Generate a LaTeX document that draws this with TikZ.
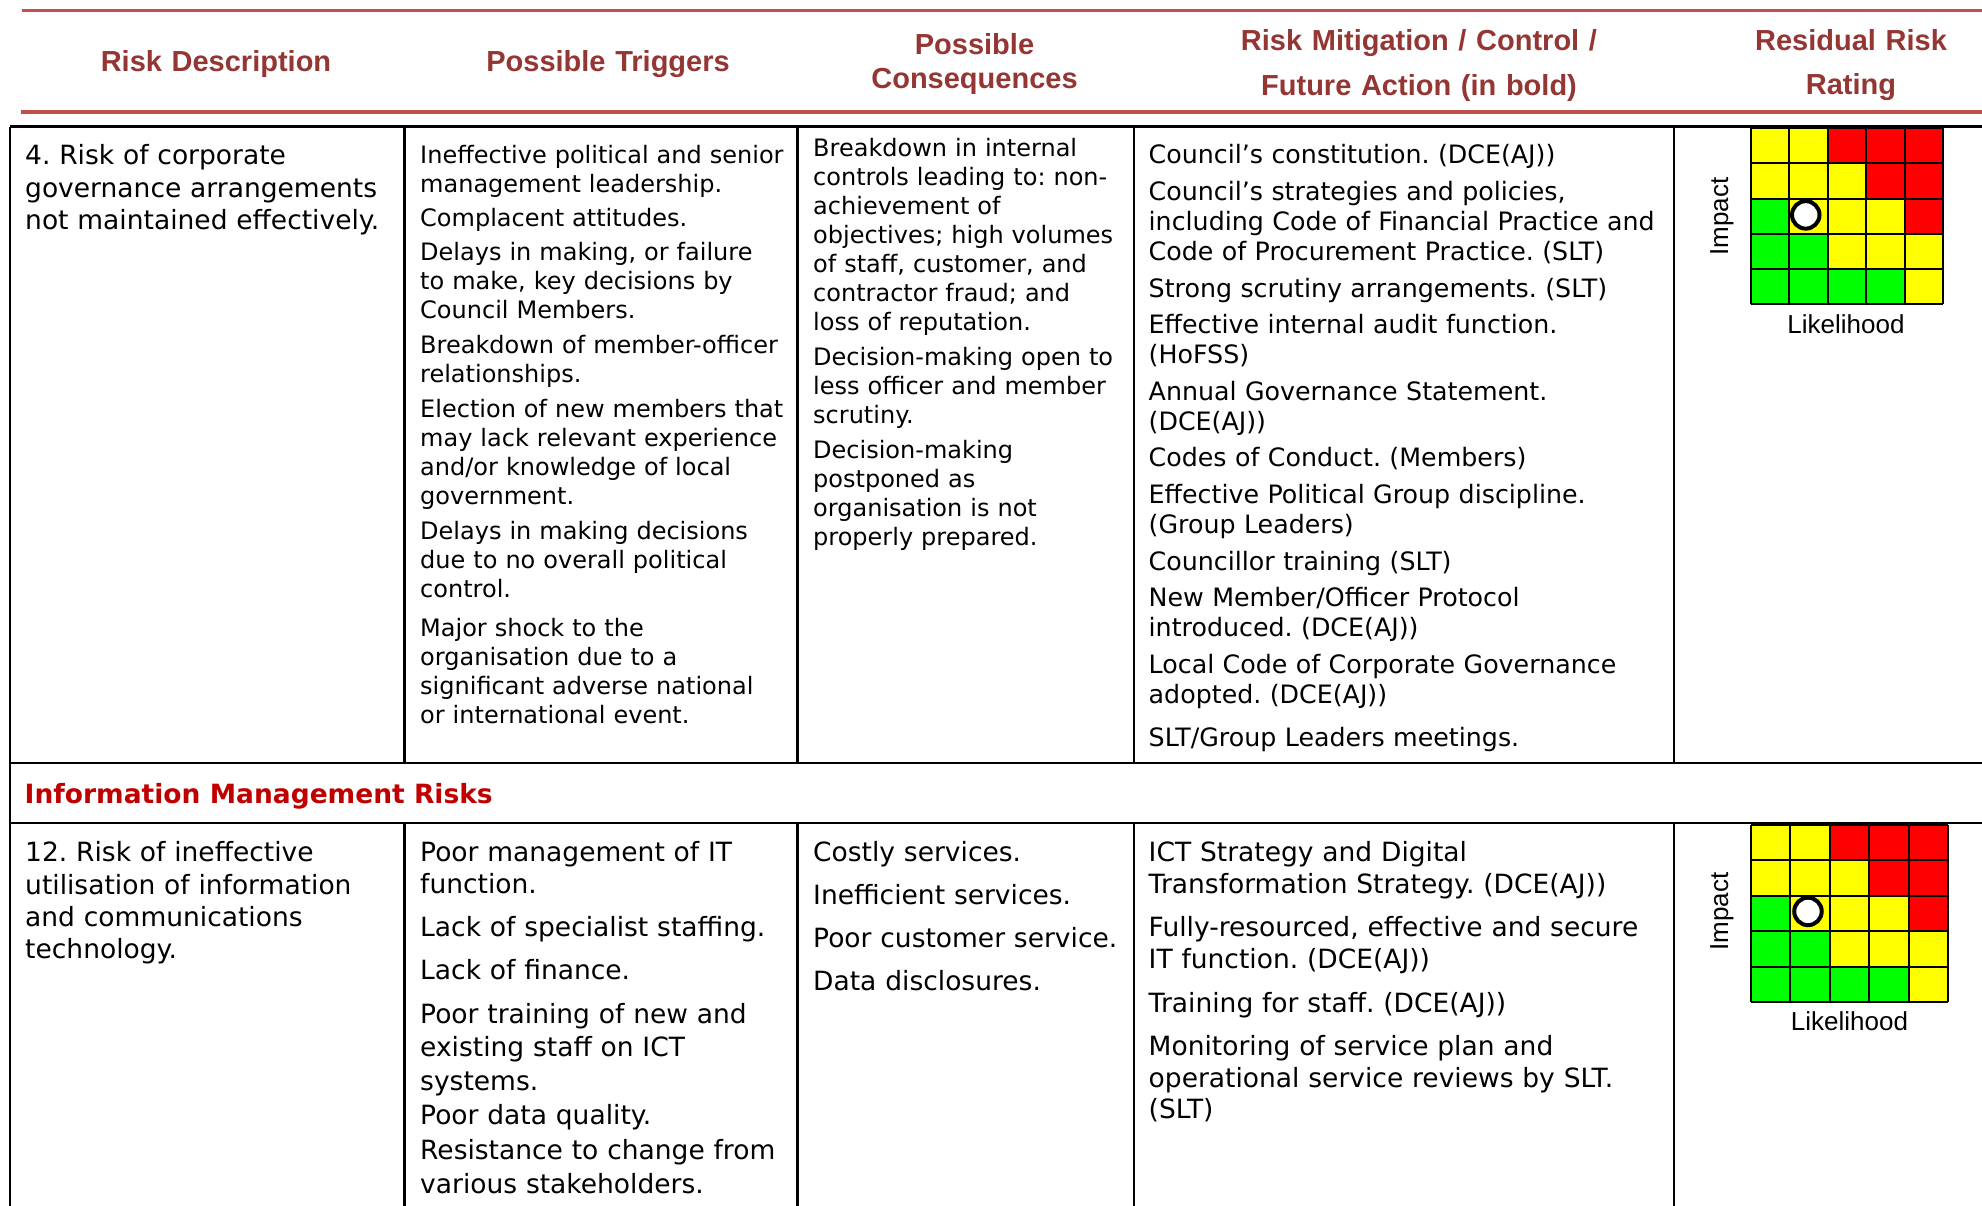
\documentclass[tikz,border=0pt]{standalone}
\usepackage{fontspec}
\setmainfont{DejaVu Sans}
\newfontfamily\headfont{Liberation Sans}
\definecolor{headred}{HTML}{943634}
\definecolor{rulered}{HTML}{C0504D}
\definecolor{sectred}{HTML}{C00000}
\definecolor{lowgreen}{HTML}{00FF00}
\definecolor{midyellow}{HTML}{FFFF00}
\definecolor{highred}{HTML}{FF0000}

\begin{document}
\frenchspacing
\begin{tikzpicture}[
x=1pt, y=-1pt,
headnode/.style={font=\headfont\bfseries\fontsize{29}{44.5}\selectfont, text=headred, text width=400pt, align=center, inner sep=0, anchor=base},
descnode/.style={font=\fontsize{26.5}{32.3}\selectfont, text width=375pt, align=left, inner sep=0, anchor=base west},
smallnode/.style={font=\fontsize{24}{29}\selectfont, text width=375pt, align=left, inner sep=0, anchor=base west},
mitignode/.style={font=\fontsize{25.3}{30}\selectfont, text width=520pt, align=left, inner sep=0, anchor=base west},
bignode/.style={font=\fontsize{26.5}{32}\selectfont, text width=520pt, align=left, inner sep=0, anchor=base west},
sectnode/.style={font=\bfseries\fontsize{26.5}{32}\selectfont, text=sectred, inner sep=0, anchor=base west},
axisnode/.style={font=\headfont\fontsize{26}{26}\selectfont, inner sep=0, anchor=base},
ratingdot/.style={circle, draw=black, line width=4pt, fill=white, minimum size=27.5pt, inner sep=0},
headrule/.style={rulered, line width=3.3pt},
tablerule/.style={black, line width=2.4pt},
gridrule/.style={black, line width=2pt, step=1}
]
\useasboundingbox (0,0) rectangle (1982,1206);

\draw[headrule] (22,10.7) -- (1982,10.7);
\draw[headrule] (21,112) -- (1982,112);

\node[headnode] (head_desc) at (216,72) {Risk Description};
\node[headnode] (head_trig) at (608,72) {Possible Triggers};
\node[headnode] (head_cons) at (974.5,55) {Possible\\[-11pt]Consequences};
\node[headnode] (head_mitig) at (1419,51) {Risk Mitigation / Control /\\Future Action (in bold)};
\node[headnode] (head_resid) at (1851,51) {Residual Risk\\[-1pt]Rating};

\draw[tablerule] (10,126.7) -- (1982,126.7);
\draw[tablerule] (10,762.7) -- (1982,762.7);
\draw[tablerule] (10,822.7) -- (1982,822.7);
\draw[tablerule] (10,126.7) -- (10,1206);
\draw[tablerule] (404.5,126.7) -- (404.5,762.7) (404.5,822.7) -- (404.5,1206);
\draw[tablerule] (797.6,126.7) -- (797.6,762.7) (797.6,822.7) -- (797.6,1206);
\draw[tablerule] (1134,126.7) -- (1134,762.7) (1134,822.7) -- (1134,1206);
\draw[tablerule] (1674,126.7) -- (1674,762.7) (1674,822.7) -- (1674,1206);

\node[descnode] (desc_four) at (25,165) {4. Risk of corporate\\governance arrangements\\not maintained effectively.};

\node[smallnode] (trig_four) at (420,163.3) {Ineffective political and senior\\management leadership.\\[5pt]Complacent attitudes.\\[5.5pt]Delays in making, or failure\\to make, key decisions by\\Council Members.\\[6pt]Breakdown of member-officer\\relationships.\\[5.5pt]Election of new members that\\may lack relevant experience\\and/or knowledge of local\\government.\\[6pt]Delays in making decisions\\due to no overall political\\control.\\[10pt]Major shock to the\\organisation due to a\\significant adverse national\\or international event.};

\node[smallnode] (cons_four) at (813,156.7) {Breakdown in internal\\controls leading to: non-\\achievement of\\objectives; high volumes\\of staff, customer, and\\contractor fraud; and\\loss of reputation.\\[6pt]Decision-making open to\\less officer and member\\scrutiny.\\[6pt]Decision-making\\postponed as\\organisation is not\\properly prepared.};

\node[mitignode] (mitig_four) at (1148.5,164) {Council’s constitution. (DCE(AJ))\\[6.6pt]Council’s strategies and policies,\\including Code of Financial Practice and\\Code of Procurement Practice. (SLT)\\[6.6pt]Strong scrutiny arrangements. (SLT)\\[6.6pt]Effective internal audit function.\\(HoFSS)\\[6.6pt]Annual Governance Statement.\\(DCE(AJ))\\[6.6pt]Codes of Conduct. (Members)\\[6.6pt]Effective Political Group discipline.\\(Group Leaders)\\[6.6pt]Councillor training (SLT)\\[6.6pt]New Member/Officer Protocol\\introduced. (DCE(AJ))\\[6.6pt]Local Code of Corporate Governance\\adopted. (DCE(AJ))\\[13pt]SLT/Group Leaders meetings.};

\begin{scope}[shift={(1750.7,304.3)}, x=38.5pt, y=35.2pt]
\fill[midyellow] (0,0) rectangle (5,5);
\fill[highred] (2,5) -- (5,5) -- (5,2) -- (4,2) -- (4,3) -- (3,3) -- (3,4) -- (2,4) -- cycle;
\fill[lowgreen] (0,3) -- (1,3) -- (1,2) -- (2,2) -- (2,1) -- (4,1) -- (4,0) -- (0,0) -- cycle;
\draw[gridrule] (0,0) grid (5,5);
\node[ratingdot] (dot_four) at (1.43,2.54) {};
\end{scope}
\node[axisnode, rotate=90] (impact_four) at (1728,216.7) {Impact};
\node[axisnode] (likely_four) at (1846,333.3) {Likelihood};

\node[sectnode] (sect_info) at (24.5,803.3) {Information Management Risks};

\node[descnode] (desc_twelve) at (25,861.7) {12. Risk of ineffective\\utilisation of information\\and communications\\technology.};

\node[bignode, font=\fontsize{26.5}{33}\selectfont] (trig_twelve) at (420,861.7) {Poor management of IT\\[-1.4pt]function.\\[10.3pt]Lack of specialist staffing.\\[10.3pt]Lack of finance.\\[10.3pt]Poor training of new and\\existing staff on ICT\\[1.5pt]systems.\\[1pt]Poor data quality.\\[1.5pt]Resistance to change from\\[1pt]various stakeholders.};

\node[bignode] (cons_twelve) at (813,861.7) {Costly services.\\[10.8pt]Inefficient services.\\[10.8pt]Poor customer service.\\[10.8pt]Data disclosures.};

\node[bignode, font=\fontsize{26.5}{31.6}\selectfont] (mitig_twelve) at (1148.5,861.7) {ICT Strategy and Digital\\Transformation Strategy. (DCE(AJ))\\[12pt]Fully-resourced, effective and secure\\IT function. (DCE(AJ))\\[12pt]Training for staff. (DCE(AJ))\\[12pt]Monitoring of service plan and\\operational service reviews by SLT.\\(SLT)};

\begin{scope}[shift={(1750.7,1002.3)}, x=39.5pt, y=35.5pt]
\fill[midyellow] (0,0) rectangle (5,5);
\fill[highred] (2,5) -- (5,5) -- (5,2) -- (4,2) -- (4,3) -- (3,3) -- (3,4) -- (2,4) -- cycle;
\fill[lowgreen] (0,3) -- (1,3) -- (1,2) -- (2,2) -- (2,1) -- (4,1) -- (4,0) -- (0,0) -- cycle;
\draw[gridrule] (0,0) grid (5,5);
\node[ratingdot] (dot_twelve) at (1.45,2.56) {};
\end{scope}
\node[axisnode, rotate=90] (impact_twelve) at (1728,911.7) {Impact};
\node[axisnode] (likely_twelve) at (1849.5,1030) {Likelihood};

\end{tikzpicture}
\end{document}
